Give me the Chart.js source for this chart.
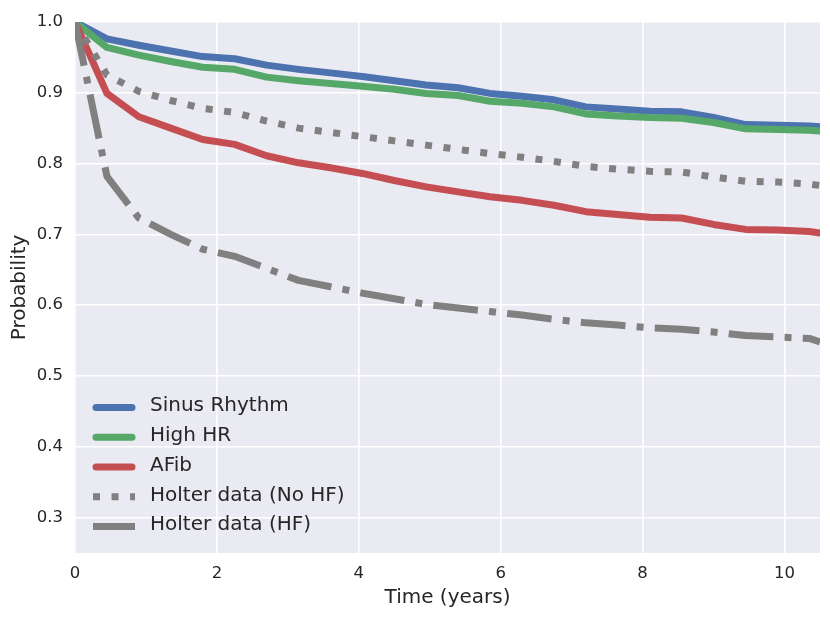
<!DOCTYPE html>
<html lang="en">
<head>
  <meta charset="UTF-8">
  <title>Probability over time</title>
  <script src="https://cdn.jsdelivr.net/npm/chart.js"></script>
  <style>
    body { margin: 0; background: #ffffff; }
    #wrap { width: 830px; height: 617px; }
  </style>
</head>
<body>
  <div id="wrap"><canvas id="survChart" width="830" height="617"></canvas></div>

  <script>
    // time points (years)
    const times = [0, 0.45, 0.9, 1.35, 1.8, 2.25, 2.7, 3.15, 3.6, 4.05, 4.5, 4.95, 5.4,
                   5.85, 6.3, 6.75, 7.2, 7.65, 8.1, 8.55, 9.0, 9.45, 9.9, 10.35, 10.5];

    const sinusRhythm = [1.0, 0.976, 0.967, 0.959, 0.951, 0.948, 0.939, 0.933, 0.928, 0.923, 0.917, 0.911, 0.907,
                         0.899, 0.895, 0.890, 0.880, 0.877, 0.874, 0.873, 0.865, 0.855, 0.854, 0.853, 0.852];
    const highHR      = [1.0, 0.964, 0.953, 0.944, 0.936, 0.933, 0.922, 0.917, 0.913, 0.909, 0.905, 0.899, 0.896,
                         0.888, 0.885, 0.880, 0.870, 0.867, 0.865, 0.864, 0.858, 0.849, 0.848, 0.847, 0.846];
    const aFib        = [1.0, 0.899, 0.866, 0.850, 0.834, 0.827, 0.811, 0.801, 0.794, 0.786, 0.776, 0.767, 0.760,
                         0.753, 0.748, 0.741, 0.732, 0.728, 0.724, 0.723, 0.714, 0.707, 0.706, 0.704, 0.702];
    const holterNoHF  = [1.0, 0.925, 0.902, 0.889, 0.878, 0.872, 0.860, 0.850, 0.844, 0.838, 0.832, 0.826, 0.820,
                         0.814, 0.809, 0.803, 0.796, 0.792, 0.789, 0.788, 0.781, 0.775, 0.774, 0.771, 0.769];
    const holterHF    = [1.0, 0.782, 0.723, 0.700, 0.679, 0.669, 0.652, 0.635, 0.626, 0.617, 0.609, 0.601, 0.596,
                         0.591, 0.586, 0.580, 0.575, 0.572, 0.568, 0.566, 0.562, 0.557, 0.555, 0.553, 0.548];

    const seriesNames = ['Sinus Rhythm', 'High HR', 'AFib', 'Holter data (No HF)', 'Holter data (HF)'];
    const xTicks = [0, 2, 4, 6, 8, 10];
    const yTicks = [0.3, 0.4, 0.5, 0.6, 0.7, 0.8, 0.9, 1.0];

    const textColor = '#262626';
    const LW = 7;

    function pts(vals) {
      return times.map((t, i) => ({ x: t, y: vals[i] }));
    }

    const styles = [
      { color: '#4C72B0', dash: [], cap: 'round' },
      { color: '#55A868', dash: [], cap: 'round' },
      { color: '#C44E52', dash: [], cap: 'round' },
      { color: '#808080', dash: [LW, LW * 1.65], cap: 'butt' },
      { color: '#808080', dash: [LW * 6.4, LW * 1.6, LW, LW * 1.6], cap: 'butt' }
    ];
    const allValues = [sinusRhythm, highHR, aFib, holterNoHF, holterHF];

    const datasets = allValues.map((vals, i) => ({
      label: seriesNames[i],
      data: pts(vals),
      borderColor: styles[i].color,
      backgroundColor: styles[i].color,
      borderWidth: LW,
      borderDash: styles[i].dash,
      borderCapStyle: styles[i].cap,
      borderJoinStyle: 'round',
      pointRadius: 0,
      tension: 0,
      fill: false,
      order: allValues.length - i
    }));

    // grey plot background like seaborn darkgrid
    const bgPlugin = {
      id: 'bg',
      beforeDraw(chart) {
        const { ctx, chartArea: a } = chart;
        ctx.save();
        ctx.fillStyle = '#EAEAF2';
        ctx.fillRect(a.left, a.top, a.right - a.left, a.bottom - a.top);
        ctx.restore();
      }
    };

    // legend in lower-left corner, no frame
    const legendPlugin = {
      id: 'innerLegend',
      afterDatasetsDraw(chart) {
        const { ctx, chartArea: a } = chart;
        ctx.save();
        ctx.font = '20px "DejaVu Sans"';
        ctx.textBaseline = 'middle';
        ctx.fillStyle = textColor;
        chart.data.datasets.forEach((ds, i) => {
          const y = a.top + 385.5 + i * 29.8;
          const x0 = a.left + 18;
          ctx.beginPath();
          ctx.strokeStyle = ds.borderColor;
          ctx.lineWidth = LW;
          ctx.lineCap = ds.borderCapStyle;
          ctx.setLineDash(ds.borderDash);
          ctx.moveTo(x0 + (ds.borderCapStyle === 'round' ? 3 : 0), y);
          ctx.lineTo(x0 + 42 - (ds.borderCapStyle === 'round' ? 3 : 0), y);
          ctx.stroke();
          ctx.setLineDash([]);
          ctx.fillText(ds.label, a.left + 75, y - 1.5);
        });
        ctx.restore();
      }
    };

    new Chart(document.getElementById('survChart'), {
      type: 'line',
      data: { datasets },
      plugins: [bgPlugin, legendPlugin],
      options: {
        responsive: false,
        animation: false,
        layout: { padding: { top: 18, right: 10, left: 0, bottom: 0 } },
        plugins: { legend: { display: false }, tooltip: { enabled: false } },
        scales: {
          x: {
            type: 'linear',
            min: 0,
            max: 10.5,
            afterBuildTicks: s => { s.ticks = xTicks.map(v => ({ value: v })); },
            afterFit: s => { s.height = 64; },
            grid: { color: '#ffffff', lineWidth: 1.6, drawTicks: false },
            border: { display: false },
            ticks: { color: textColor, font: { family: 'DejaVu Sans', size: 16.5 }, padding: 11 },
            title: { display: true, text: 'Time (years)', color: textColor,
                     font: { family: 'DejaVu Sans', size: 20 }, padding: { top: 0, bottom: 7 } }
          },
          y: {
            min: 0.25,
            max: 1.0,
            afterBuildTicks: s => { s.ticks = yTicks.map(v => ({ value: v })); },
            afterFit: s => { s.width = 75; },
            grid: { color: '#ffffff', lineWidth: 1.6, drawTicks: false },
            border: { display: false },
            ticks: { color: textColor, font: { family: 'DejaVu Sans', size: 16.5 }, padding: 12,
                     callback: v => v.toFixed(1) },
            title: { display: true, text: 'Probability', color: textColor,
                     font: { family: 'DejaVu Sans', size: 20 }, padding: { top: 8, bottom: 0 } }
          }
        }
      }
    });
  </script>
</body>
</html>
